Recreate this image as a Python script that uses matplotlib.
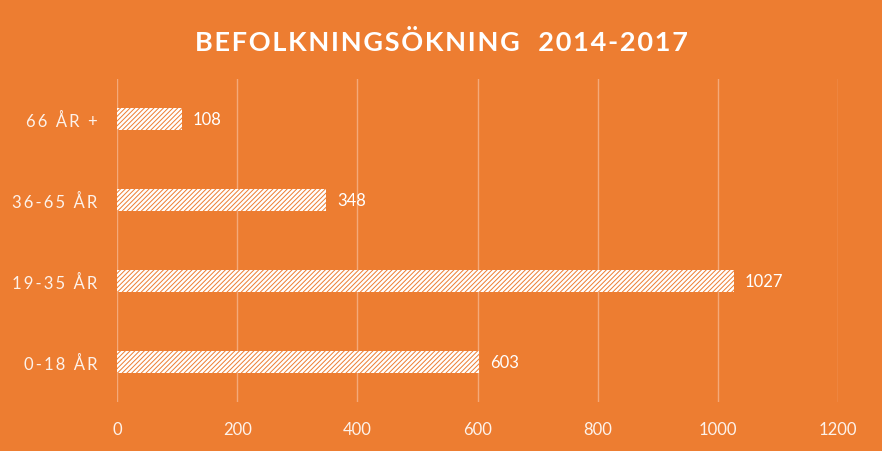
import matplotlib.pyplot as plt

# Data
categories = ["0-18 ÅR", "19-35 ÅR", "36-65 ÅR", "66 ÅR +"]
values = [603, 1027, 348, 108]
x_ticks = [0, 200, 400, 600, 800, 1000, 1200]

orange = "#ED7D31"
grid_col = "#F4A979"

plt.rcParams["font.family"] = ["Lato", "DejaVu Sans"]
plt.rcParams["hatch.color"] = orange
plt.rcParams["hatch.linewidth"] = 0.7


def spaced(s, sep="\u2009"):
    return sep.join(s)


fig = plt.figure(figsize=(8.82, 4.52), dpi=100, facecolor=orange)
ax = fig.add_axes([0.1327, 0.1084, 0.8175, 0.7146])
ax.set_facecolor(orange)

ypos = list(range(len(categories)))
bars = ax.barh(ypos, values, height=0.27, color="white", hatch="///////")

for y, v in zip(ypos, values):
    ax.text(v + 18, y, str(v), va="center", ha="left", color="white", fontsize=12)

ax.set_xlim(0, 1200)
ax.set_ylim(-0.5, 3.5)
ax.set_xticks(x_ticks)
ax.set_xticklabels([str(t) for t in x_ticks])
ax.set_yticks(ypos)
ax.set_yticklabels([spaced(c) for c in categories])
ax.tick_params(axis="both", length=0, colors="#FDF2EA", labelsize=12)
ax.tick_params(axis="x", pad=14)
ax.tick_params(axis="y", pad=14)
ax.grid(axis="x", color=grid_col, linewidth=1)
ax.set_axisbelow(True)
for s in ax.spines.values():
    s.set_visible(False)

fig.text(0.5, 0.906, spaced("BEFOLKNINGSÖKNING  2014-2017", "\u200a"), ha="center", va="center",
         color="white", fontsize=19.5, fontweight="bold")

fig.savefig("out.png", dpi=100, facecolor=orange)
